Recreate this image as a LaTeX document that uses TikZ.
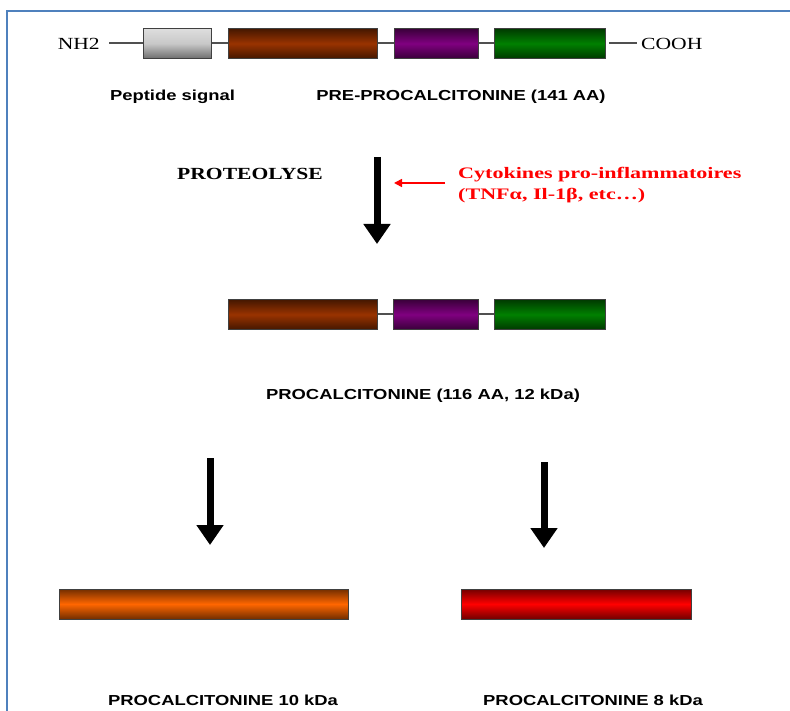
\documentclass[tikz,border=0pt]{standalone}
\usepackage{fontspec}
\setmainfont{Liberation Serif}
\setsansfont{Liberation Sans}
\usetikzlibrary{arrows.meta}
\newcommand{\hstretch}[1]{\scalebox{1.27}[1]{#1}}
\newcommand{\rstretch}[1]{\scalebox{1.38}[1]{#1}}
\definecolor{frameblue}{HTML}{4F81BD}
\definecolor{cbrown}{HTML}{993300}
\definecolor{cpurple}{HTML}{800080}
\definecolor{cgreen}{HTML}{008000}
\definecolor{corange}{HTML}{FF6600}
\definecolor{cred}{HTML}{FF0000}
\definecolor{cgray}{HTML}{C8C8C8}
\definecolor{linkgray}{HTML}{505050}
\tikzset{
  seg/.style={draw=black!75, line width=1pt, inner sep=0pt, minimum height=30pt},
  segc/.style={seg, top color=#1!45!black, bottom color=#1!45!black, middle color=#1},
  link/.style={draw=linkgray, line width=2pt},
  lab/.style={font=\fontsize{14.5}{17}\selectfont\sffamily\bfseries, inner sep=0pt},
  serif/.style={font=\fontsize{17}{20}\selectfont\rmfamily, inner sep=0pt},
  bigarrow/.style={line width=7pt, -{Triangle[width=26pt,length=20pt]}},
  redarrow/.style={draw=red, line width=1.6pt, -{Triangle[width=8pt,length=8pt]}}
}
\begin{document}
\begin{tikzpicture}[x=1pt,y=-1pt]
\useasboundingbox (0,0) rectangle (790,711);
% frame
\draw[frameblue, line width=2pt] (7,711) -- (7,11) -- (790,11);

% row 1
\node[seg, minimum width=68pt, top color=cgray!60!white, bottom color=cgray!55!black, middle color=cgray] (g1) at (177,43.5) {};
\node[segc=cbrown, minimum width=149pt] (b1) at (302.5,43.5) {};
\node[segc=cpurple, minimum width=84pt] (p1) at (436,43.5) {};
\node[segc=cgreen, minimum width=111pt] (v1) at (549.5,43.5) {};
\node[serif, anchor=east] (nh2) at (100,44) {\hstretch{NH2}};
\node[serif, anchor=west] (cooh) at (641,44) {\hstretch{COOH}};
\coordinate (nhend) at (109,43.5);
\coordinate (coend) at (637,43.5);
\coordinate (costart) at (609,43.5);
\draw[link] (nhend) -- (g1.west);
\draw[link] (g1.east) -- (b1.west);
\draw[link] (b1.east) -- (p1.west);
\draw[link] (p1.east) -- (v1.west);
\draw[link] (costart) -- (coend);

\node[lab] (pep) at (172.5,97) {\hstretch{Peptide signal}};
\node[lab] (pre) at (461,97) {\hstretch{PRE-PROCALCITONINE (141 AA)}};

% proteolysis
\node[serif, font=\fontsize{17}{20}\selectfont\rmfamily\bfseries] (prot) at (250,174) {\hstretch{PROTEOLYSE}};
\coordinate (a1s) at (377,157);
\coordinate (a1e) at (377,244);
\draw[bigarrow] (a1s) -- (a1e);
\node[anchor=west, inner sep=0pt, text=red, align=left, font=\fontsize{16}{21}\selectfont\rmfamily\bfseries] (cyto) at (458,185)
  {\rstretch{Cytokines pro-inflammatoires}\\\rstretch{(TNFα, Il-1β, etc…)}};
\coordinate (r1s) at (445,183);
\coordinate (r1e) at (394,183);
\draw[redarrow] (r1s) -- (r1e);

% row 2
\node[segc=cbrown, minimum width=149pt] (b2) at (302.5,314.5) {};
\node[segc=cpurple, minimum width=85pt] (p2) at (436,314.5) {};
\node[segc=cgreen, minimum width=111pt] (v2) at (549.5,314.5) {};
\draw[link] (b2.east) -- (p2.west);
\draw[link] (p2.east) -- (v2.west);
\node[lab] (pct) at (423,396) {\hstretch{PROCALCITONINE (116 AA, 12 kDa)}};

% split arrows
\coordinate (a2s) at (210,458);
\coordinate (a2e) at (210,545);
\coordinate (a3s) at (544,462);
\coordinate (a3e) at (544,548);
\draw[bigarrow] (a2s) -- (a2e);
\draw[bigarrow] (a3s) -- (a3e);

% bars
\node[segc=corange, minimum width=289pt] (o3) at (203.5,604) {};
\node[segc=cred, minimum width=230pt] (r3) at (576,604) {};
\node[lab] (l10) at (223,700) {\hstretch{PROCALCITONINE 10 kDa}};
\node[lab] (l8) at (593,700) {\hstretch{PROCALCITONINE 8 kDa}};
\end{tikzpicture}
\end{document}
